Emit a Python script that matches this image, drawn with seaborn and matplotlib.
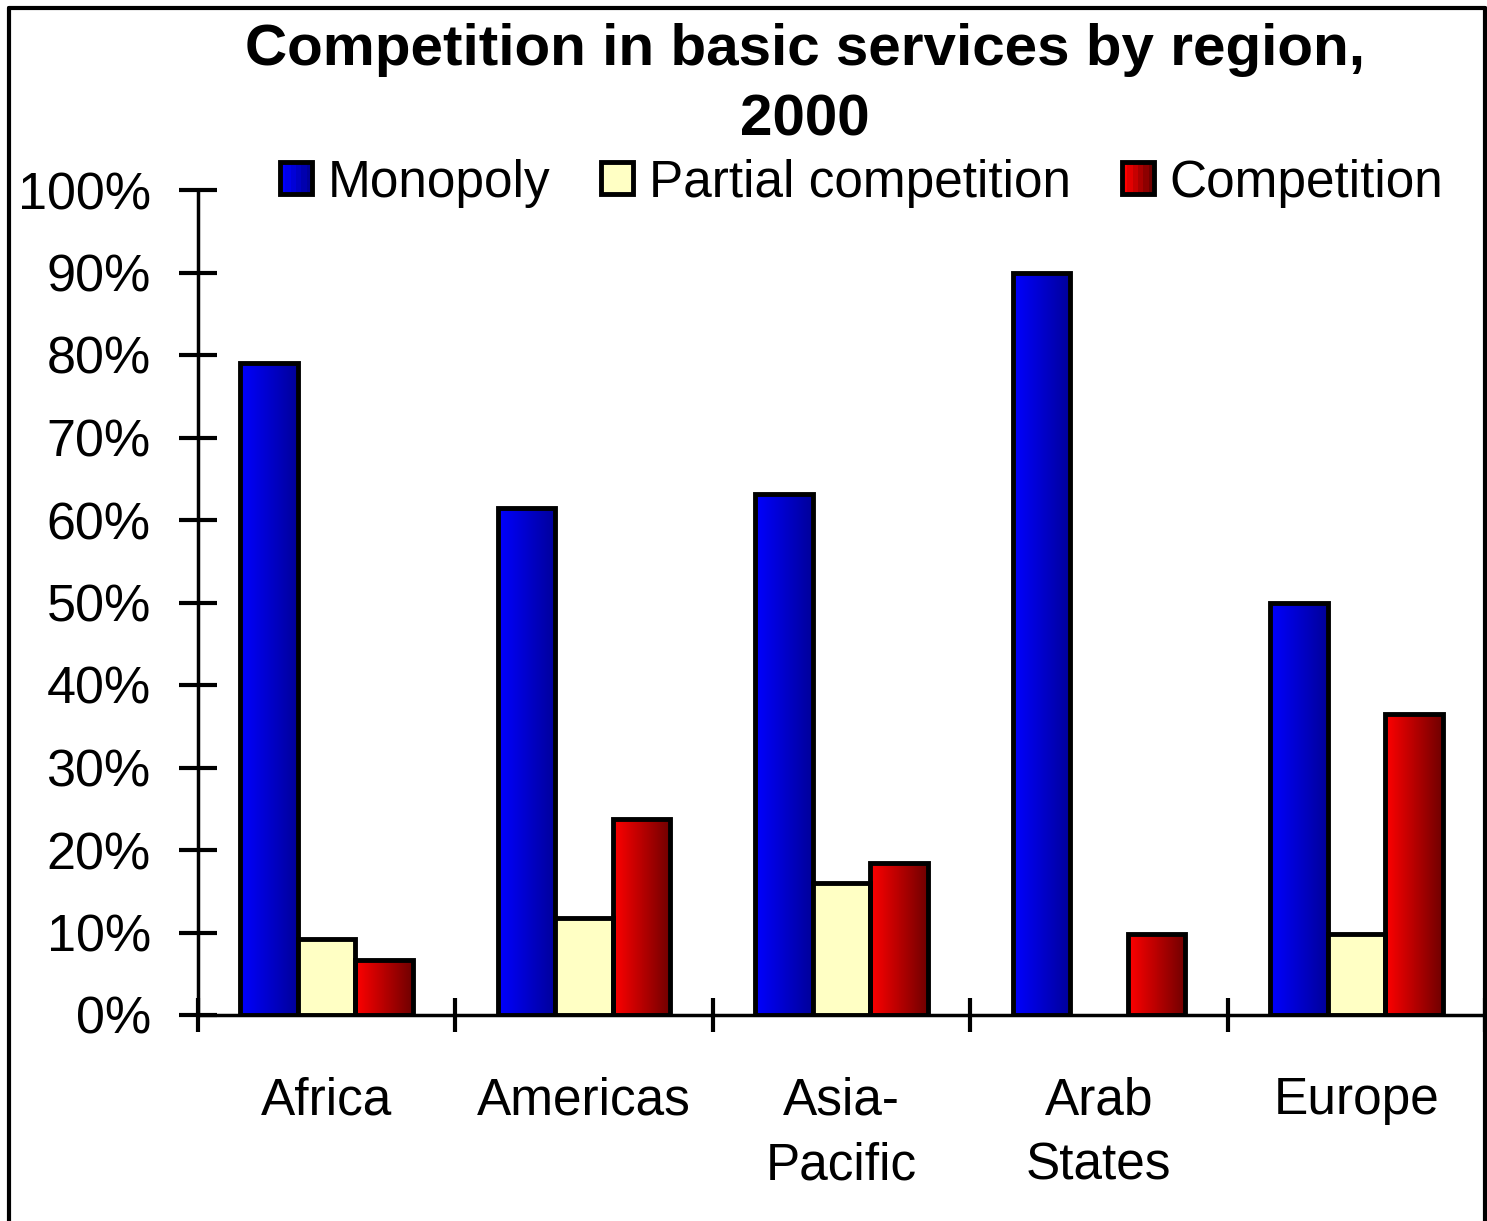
import numpy as np
import pandas as pd
import matplotlib
matplotlib.use('Agg')
import matplotlib.pyplot as plt
import seaborn as sns
from matplotlib.patches import Rectangle
from matplotlib.legend_handler import HandlerBase
from matplotlib.lines import Line2D
from matplotlib.colors import LinearSegmentedColormap

# --- datos ---
regions = ['Africa', 'Americas', 'Asia-\nPacific', 'Arab\nStates', 'Europe']
series = ['Monopoly', 'Partial competition', 'Competition']
monopoly = [79, 61.5, 63.2, 90, 50]
partial = [9.2, 11.8, 16, 0, 9.8]
competition = [6.7, 23.8, 18.4, 9.8, 36.5]

df = pd.DataFrame({
    'region': regions * 3,
    'serie': [series[0]] * 5 + [series[1]] * 5 + [series[2]] * 5,
    'valor': monopoly + partial + competition,
})

grad = {
    'Monopoly': ('#0000ff', '#00009a'),
    'Partial competition': ('#ffffc4', '#ffffc4'),
    'Competition': ('#ff0000', '#700000'),
}

sns.set_style('white')
plt.rcParams['font.family'] = ['Liberation Sans', 'DejaVu Sans']
for k in ['text.color', 'axes.labelcolor', 'xtick.color', 'ytick.color', 'axes.edgecolor']:
    plt.rcParams[k] = 'black'

fig = plt.figure(figsize=(14.87, 12.21), dpi=100)
ax = fig.add_axes([198 / 1487, 1 - 1015 / 1221, (1485 - 198) / 1487, (1015 - 190) / 1221])

sns.barplot(data=df, x='region', y='valor', hue='serie', hue_order=series,
            palette=[grad[s][0] for s in series], saturation=1, width=0.67, gap=0,
            edgecolor='black', linewidth=3.5, ax=ax, legend=False, zorder=2)

# degradado horizontal en cada barra
for container, s in zip(ax.containers, series):
    cmap = LinearSegmentedColormap.from_list(s, grad[s])
    img = np.linspace(0, 1, 64).reshape(1, -1)
    for p in container:
        x0, y0 = p.get_x(), p.get_y()
        w, h = p.get_width(), p.get_height()
        if h <= 0:
            p.set_visible(False)
            continue
        if s != 'Partial competition':
            im = ax.imshow(img, cmap=cmap, aspect='auto', extent=(x0, x0 + w, y0, y0 + h),
                           zorder=1.5, interpolation='bilinear')
            im.set_clip_path(p)
            p.set_facecolor('none')

ax.set_xlim(-0.5, 4.5)
ax.set_ylim(0, 100)
ax.set_yticks(np.arange(0, 101, 10))
ax.set_yticklabels([f'{v}%' for v in range(0, 101, 10)])
ax.set_xticks(np.arange(-0.5, 4.6, 1))
ax.set_xticklabels([])
ax.set_xticks(range(5), minor=True)
ax.set_xticklabels(regions, minor=True)
ax.set_xlabel('')
ax.set_ylabel('')

ax.tick_params(axis='y', which='major', left=True, direction='inout', length=28, width=3,
               labelsize=37.5, pad=20, colors='black')
ax.tick_params(axis='x', which='major', bottom=True, direction='inout', length=24, width=3,
               colors='black')
ax.tick_params(axis='x', which='minor', bottom=True, length=0, labelsize=37, pad=44,
               labelcolor='black')
for lab in ax.get_xticklabels(minor=True):
    lab.set_linespacing(1.42)

sns.despine(ax=ax)
for side in ['left', 'bottom']:
    ax.spines[side].set_linewidth(2.5)
    ax.spines[side].set_color('black')
ax.grid(False)


# leyenda con cuadritos degradados
class GradHandler(HandlerBase):
    def __init__(self, c0, c1):
        super().__init__()
        self.c0, self.c1 = c0, c1

    def create_artists(self, legend, orig_handle, xdescent, ydescent, width, height, fontsize, trans):
        arts = []
        cmap = LinearSegmentedColormap.from_list('h', [self.c0, self.c1])
        n = 6
        side = min(width, height)
        x0 = -xdescent
        y0 = -ydescent + (height - side) / 2
        for i in range(n):
            r = Rectangle((x0 + i * side / n, y0), side / n, side, facecolor=cmap(i / (n - 1)),
                          edgecolor='none', transform=trans)
            arts.append(r)
        arts.append(Rectangle((x0, y0), side, side, facecolor='none', edgecolor='black',
                              linewidth=3.5, transform=trans))
        return arts


handles = [Rectangle((0, 0), 1, 1) for _ in series]
leg = fig.legend(handles, series, handler_map={h: GradHandler(*grad[s]) for h, s in zip(handles, series)},
                 loc='center left', bbox_to_anchor=(280 / 1487, 1 - 183 / 1221), ncol=3,
                 frameon=False, fontsize=37, handlelength=0.62, handleheight=0.62,
                 handletextpad=0.3, columnspacing=1.0, borderpad=0, borderaxespad=0)

fig.text(805 / 1487, 1 - 50 / 1221, 'Competition in basic services by region,',
         ha='center', va='center', fontsize=42, fontweight='bold')
fig.text(805 / 1487, 1 - 121 / 1221, '2000', ha='center', va='center', fontsize=42, fontweight='bold')

# marco exterior
for xs, ys in [([8.5, 8.5], [1221, 8]), ([8.5, 1484.5], [8, 8]), ([1484.5, 1484.5], [8, 1221])]:
    fig.add_artist(Line2D([x / 1487 for x in xs], [1 - y / 1221 for y in ys],
                          color='black', linewidth=3, transform=fig.transFigure))

fig.savefig('out.png', dpi=100, facecolor='white')
